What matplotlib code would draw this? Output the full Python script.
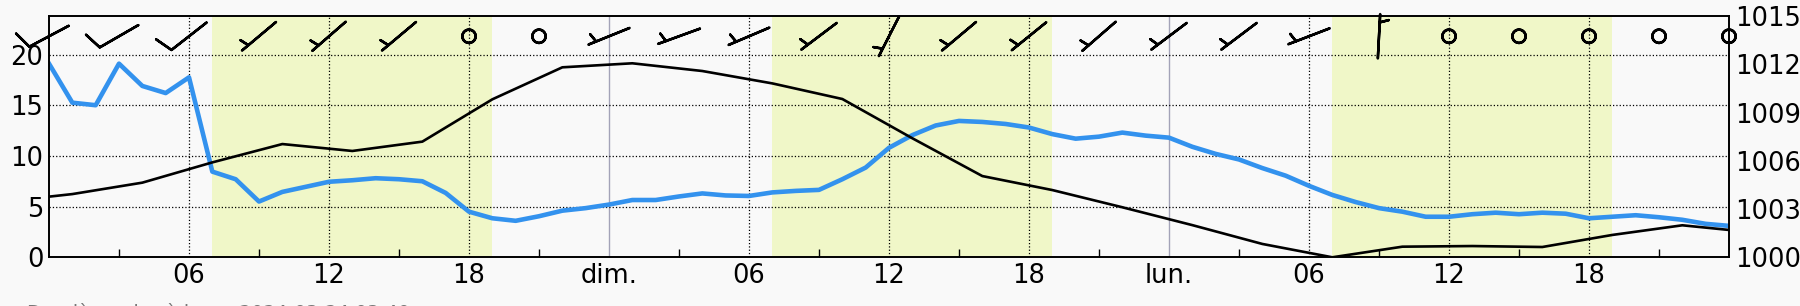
import numpy as np
import matplotlib
matplotlib.use('Agg')
import matplotlib.pyplot as plt

# ---------------- data ----------------
hours = list(range(73))
blue_vals = [19.1, 15.25, 15.0, 19.1, 16.9, 16.2, 17.75, 8.45, 7.7, 5.5,
             6.45, 6.95, 7.45, 7.6, 7.8, 7.7, 7.5, 6.35, 4.5, 3.85,
             3.6, 4.05, 4.6, 4.85, 5.2, 5.65, 5.65, 6.0, 6.3, 6.1,
             6.05, 6.4, 6.55, 6.65, 7.7, 8.85, 10.8, 12.05, 13.0, 13.45,
             13.35, 13.15, 12.8, 12.15, 11.7, 11.9, 12.3, 12.0, 11.8, 10.9,
             10.2, 9.65, 8.8, 8.05, 7.05, 6.15, 5.45, 4.85, 4.5, 4.0,
             4.0, 4.25, 4.4, 4.25, 4.4, 4.3, 3.85, 4.0, 4.15, 3.95,
             3.7, 3.3, 3.1]

p_hours = [0, 1, 4, 7, 10, 13, 16, 19, 22, 25, 28, 31, 34, 37, 40, 43, 46,
           49, 52, 55, 58, 61, 64, 67, 70, 72]
p_vals = [1003.77, 1003.93, 1004.64, 1005.9, 1007.04, 1006.61, 1007.19,
          1009.82, 1011.81, 1012.06, 1011.58, 1010.81, 1009.84, 1007.4,
          1005.05, 1004.18, 1003.11, 1002.0, 1000.83, 1000.0, 1000.66,
          1000.7, 1000.64, 1001.39, 1001.99, 1001.7]

w_hours = list(range(0, 73, 3))
w_speed = [10, 10, 10, 5, 5, 5, 0, 0, 5, 5, 5, 5, 5, 5, 5, 5, 5, 5, 5, 5,
           0, 0, 0, 0, 0]
w_dir = [242, 240, 232, 230, 229, 230, 0, 0, 248, 250, 247, 233, 207, 230,
         231, 229, 233, 233, 249, 3, 0, 0, 0, 0, 0]

day_spans = [(7.0, 19.0), (31.0, 43.0), (55.0, 67.0)]
midnights = [24, 48]

x_major = list(range(6, 72, 6))
x_labels = ['06', '12', '18', 'dim.', '06', '12', '18', 'lun.', '06', '12', '18']
x_minor = list(range(3, 72, 6))
left_ticks = [0, 5, 10, 15, 20]
right_ticks = [1000, 1003, 1006, 1009, 1012, 1015]

footer = 'Dernière mise à jour : 2024-03-24 03:40'

# ---------------- figure ----------------
W, H = 1800, 306
bg = '#f9f9f9'
fig = plt.figure(figsize=(W / 100, H / 100), dpi=100, facecolor=bg)
L, R, T, B = 49, 1729, 16, 257.3
ax = fig.add_axes([L / W, 1 - B / H, (R - L) / W, (B - T) / H])
ax.set_facecolor(bg)

for a, b in day_spans:
    ax.axvspan(a, b, color='#f0f7c8', lw=0, zorder=0.5)

ax.plot(hours, blue_vals, color='#3392ee', lw=3.3, zorder=2,
        solid_joinstyle='round')
ax.set_xlim(0, 72)
ax.set_ylim(0, 23.8)

ax.set_xticks(x_major)
ax.set_xticklabels(x_labels)
ax.set_xticks(x_minor, minor=True)
ax.set_yticks(left_ticks)
ax.tick_params(axis='both', which='major', length=0, labelsize=18.5)
ax.tick_params(axis='y', which='major', pad=4)
ax.tick_params(axis='x', which='major', pad=4)
ax.tick_params(axis='x', which='minor', direction='in', length=6, width=1,
               color='black')
ax.set_axisbelow('line')
ax.grid(True, which='major', axis='both', color='black', linestyle=':',
        linewidth=0.9)
for gl, t in zip(ax.xaxis.get_gridlines(), x_major):
    if t in midnights:
        gl.set_linestyle('-')
        gl.set_color('#a3a3b8')
        gl.set_linewidth(1.0)
for gl, t in zip(ax.yaxis.get_gridlines(), left_ticks):
    if t == 0:
        gl.set_visible(False)

for s in ax.spines.values():
    s.set_linewidth(1.2)

ax2 = ax.twinx()
ax2.plot(p_hours, p_vals, color='black', lw=1.9, zorder=2)
ax2.set_ylim(1000, 1015)
ax2.set_yticks(right_ticks)
ax2.tick_params(axis='y', length=0, labelsize=18.5, pad=4.5)
for s in ax2.spines.values():
    s.set_linewidth(1.2)

# wind barbs
sp = np.array(w_speed, dtype=float)
dr = np.deg2rad(np.array(w_dir, dtype=float))
u = -sp * np.sin(dr)
v = -sp * np.cos(dr)
ax.barbs(w_hours, [21.8] * len(w_hours), u, v, pivot='middle', length=8.0,
         linewidth=1.8, color='black', clip_on=False, zorder=5)

fig.text(27 / W, (H - 319) / H, footer, fontsize=13.7, color='#777777',
         ha='left', va='baseline')

fig.savefig('out.png', dpi=100, facecolor=bg)
